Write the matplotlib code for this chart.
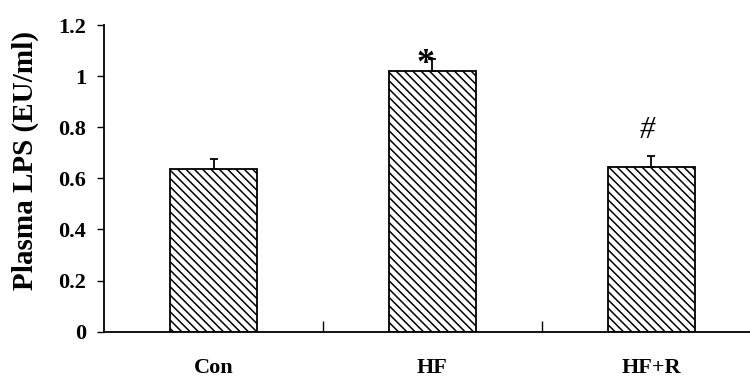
import matplotlib.pyplot as plt

plt.rcParams['font.family'] = ['Liberation Serif', 'DejaVu Serif']
plt.rcParams['font.weight'] = 'bold'
plt.rcParams['hatch.linewidth'] = 1.1

groups = ['Con', 'HF', 'HF+R']
lps_means = [0.638, 1.021, 0.645]
lps_errors = [0.037, 0.048, 0.043]
marks = ['', '*', '#']


def main():
    fig = plt.figure(figsize=(7.5, 3.79), dpi=100)
    ax = fig.add_axes([0.1387, 0.1248, 0.8613, 0.809])

    x = list(range(len(groups)))
    ax.bar(x, lps_means, width=0.4, color='white', edgecolor='black',
           linewidth=1.3, hatch='\\\\\\\\', zorder=2)
    ax.errorbar(x, lps_means, yerr=[[0] * len(x), lps_errors], fmt='none',
                ecolor='black', elinewidth=1.3, capsize=3, capthick=1.3, zorder=3)

    for xi, m, e, s in zip(x, lps_means, lps_errors, marks):
        if s == '*':
            ax.text(xi - 0.03, m + e - 0.025, s, ha='center', va='center',
                    fontsize=26, fontweight='bold', zorder=4)
        elif s:
            ax.text(xi - 0.02, m + e + 0.1, s, ha='center', va='center',
                    fontsize=22, fontweight='normal', fontstyle='italic')

    ax.set_xlim(-0.5, 2.45)
    ax.set_ylim(0, 1.2)
    ax.set_yticks([0, 0.2, 0.4, 0.6, 0.8, 1, 1.2])
    ax.set_yticklabels(['0', '0.2', '0.4', '0.6', '0.8', '1', '1.2'],
                       fontsize=16, fontweight='bold')
    ax.tick_params(axis='y', direction='out', length=5, width=1, pad=8)

    ax.set_xticks(x)
    ax.set_xticklabels(groups, fontsize=16, fontweight='bold')
    ax.set_xticks([0.5, 1.5], minor=True)
    ax.tick_params(axis='x', which='major', length=0, pad=19)
    ax.tick_params(axis='x', which='minor', direction='in', length=8, width=1)

    ax.spines['top'].set_visible(False)
    ax.spines['right'].set_visible(False)
    for sp in ['left', 'bottom']:
        ax.spines[sp].set_linewidth(1.3)

    ax.set_ylabel('Plasma LPS (EU/ml)', fontsize=21, fontweight='bold', va='center')
    ax.yaxis.set_label_coords(-0.122, 0.557)

    fig.savefig('out.png', dpi=100)


if __name__ == '__main__':
    main()
